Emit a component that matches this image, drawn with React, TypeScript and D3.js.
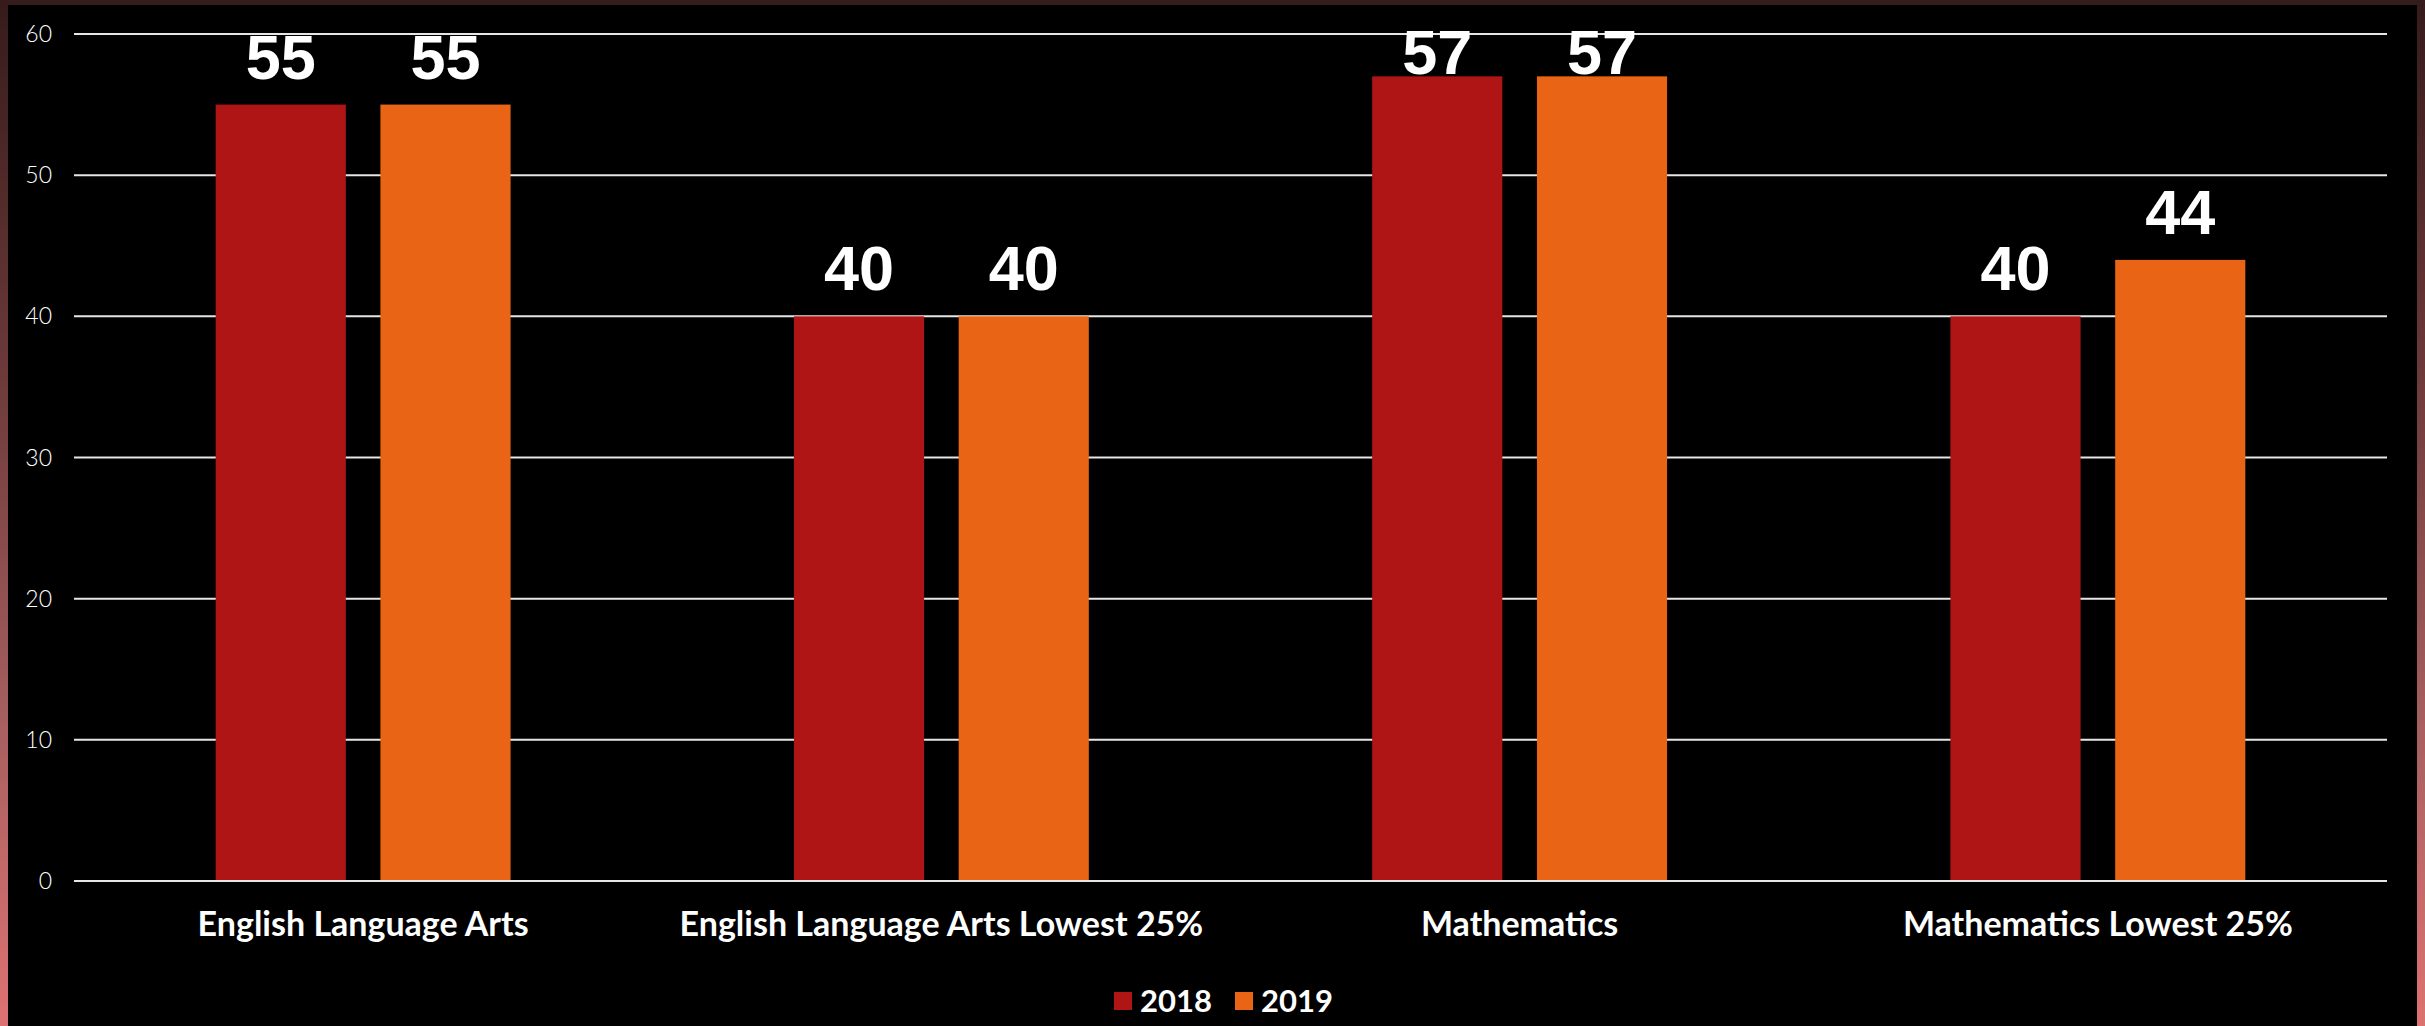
import * as d3 from "d3";

const categories = [
    "English Language Arts",
    "English Language Arts Lowest 25%",
    "Mathematics",
    "Mathematics Lowest 25%",
];
const seriesNames = ["2018", "2019"];
const values2018 = [55, 40, 57, 40];
const values2019 = [55, 40, 57, 44];
const yTicks = [0, 10, 20, 30, 40, 50, 60];
const colors = ["#B01515", "#E96414"];

const width = 2425;
const height = 1026;
const marginLeft = 74;
const marginRight = 38;
const marginTop = 34;
const plotBottom = 881;

export default function App() {
    const series = [values2018, values2019];
    const x0 = d3.scaleBand(categories, [marginLeft, width - marginRight]).paddingInner(0.49).paddingOuter(0.245);
    const x1 = d3.scaleBand(seriesNames, [0, x0.bandwidth()]).paddingInner(0.21);
    const y = d3.scaleLinear([0, 60], [plotBottom, marginTop]);
    // data labels get pushed down when they would run off the top
    const labelY = (v: number) => Math.max(y(v) - 26, 74);

    return (
        <svg width={width} height={height} style={{ position: "absolute", left: 0, top: 0, display: "block" }}>
            <defs>
                <linearGradient id="frame" x1="0" y1="0" x2="0" y2="1">
                    <stop offset="0" stopColor="#361b1b" />
                    <stop offset="0.35" stopColor="#6a3838" />
                    <stop offset="0.7" stopColor="#a65f5f" />
                    <stop offset="1" stopColor="#de7272" />
                </linearGradient>
            </defs>
            <rect x={0} y={0} width={width} height={height} fill="url(#frame)" />
            <rect x={8} y={5} width={2409} height={height - 5} fill="#000" />

            {/* grid + y ticks */}
            <g fontFamily="Lato, 'Open Sans', sans-serif" fontWeight={300} fontSize={23} fill="#fff">
                {yTicks.map((t) => (
                    <g key={t}>
                        <line x1={marginLeft} x2={width - marginRight} y1={y(t)} y2={y(t)} stroke="#e6e6e6" strokeWidth={2} />
                        <text x={52} y={y(t)} dy="0.35em" textAnchor="end">{t}</text>
                    </g>
                ))}
            </g>

            {/* bars */}
            {categories.map((c, i) => (
                <g key={c} transform={`translate(${x0(c)},0)`}>
                    {seriesNames.map((s, j) => (
                        <rect key={s} x={x1(s)} y={y(series[j][i])} width={x1.bandwidth()} height={y(0) - y(series[j][i])} fill={colors[j]} />
                    ))}
                    {seriesNames.map((s, j) => (
                        <text key={s + "l"} x={(x1(s) as number) + x1.bandwidth() / 2} y={labelY(series[j][i])}
                            textAnchor="middle" fill="#fff" fontFamily="'Liberation Sans', Arial, sans-serif" fontWeight="bold" fontSize={63}>
                            {series[j][i]}
                        </text>
                    ))}
                </g>
            ))}
            <line x1={marginLeft} x2={width - marginRight} y1={y(0)} y2={y(0)} stroke="#e6e6e6" strokeWidth={2} />

            {/* category labels */}
            <g fontFamily="Lato, 'Open Sans', sans-serif" fontWeight="bold" fontSize={34} fill="#fff" textAnchor="middle">
                {categories.map((c) => (
                    <text key={c} x={(x0(c) as number) + x0.bandwidth() / 2} y={936}>{c}</text>
                ))}
            </g>

            {/* legend */}
            <g fontFamily="Lato, 'Open Sans', sans-serif" fontWeight="bold" fontSize={31} fill="#fff">
                {seriesNames.map((s, j) => (
                    <g key={s} transform={`translate(${1114 + j * 121},0)`}>
                        <rect x={0} y={992} width={18} height={18} fill={colors[j]} />
                        <text x={26} y={1012}>{s}</text>
                    </g>
                ))}
            </g>
        </svg>
    );
}
